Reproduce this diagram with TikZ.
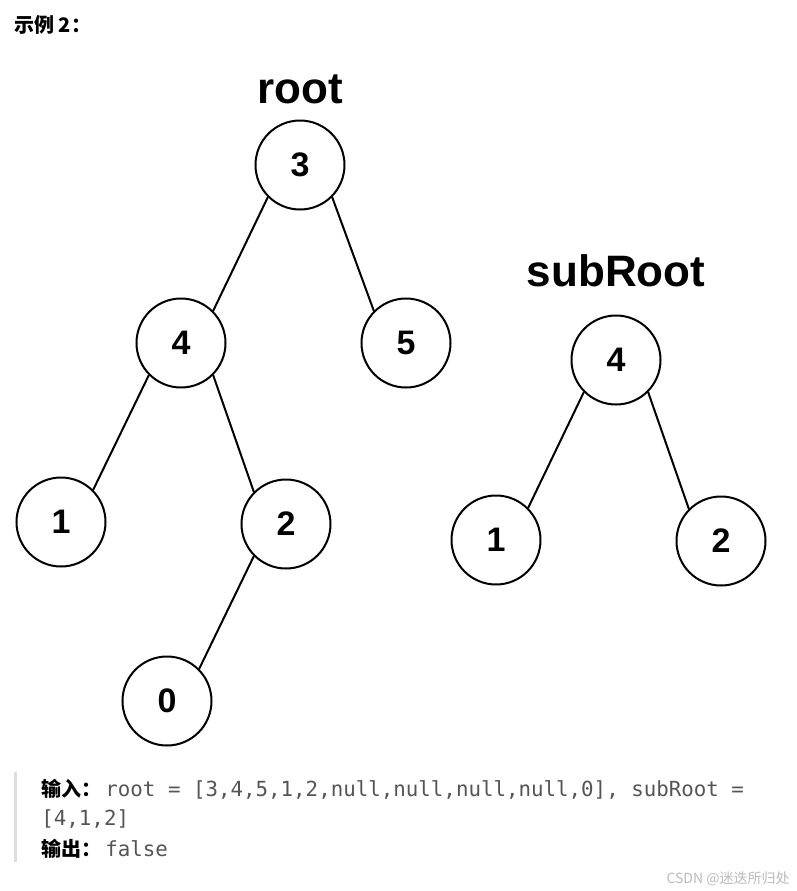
\documentclass[tikz,border=0pt]{standalone}
\usepackage{fontspec}
\usepackage{xcolor}
\setmainfont{Liberation Sans}
\newfontfamily\cjk{Noto Sans CJK SC}
\newfontfamily\codefont{DejaVu Sans Mono}
\usetikzlibrary{positioning}

\definecolor{codegray}{HTML}{555555}
\definecolor{bargray}{HTML}{DDDDDD}
\definecolor{markgray}{HTML}{BBBBBB}

\begin{document}
\begin{tikzpicture}[
  x=0.5pt, y=-0.5pt,
  node distance=89.5pt and 60pt, on grid,
  treenode/.style={circle, draw=black, line width=1pt, minimum size=44.5pt,
                   inner sep=0pt, font=\fontsize{17}{17}\selectfont\bfseries},
  treelabel/.style={anchor=base, inner sep=0pt, font=\fontsize{22}{22}\selectfont\bfseries},
  branch/.style={draw, line width=1pt},
  cnlabel/.style={anchor=base west, inner sep=0pt, font=\cjk\bfseries\fontsize{10}{10}\selectfont},
  code/.style={anchor=base west, inner sep=0pt, text=codegray, font=\codefont\fontsize{10.4}{10.4}\selectfont},
]
  \useasboundingbox[fill=white] (0,0) rectangle (797,891);

  \node[cnlabel] (title) at (14,32) {示例 2：};

  % root tree
  \node[treelabel] (rootlbl) at (300,103) {root};
  \node[treenode] (r3) at (300,165) {3};
  \node[treenode, below left=89pt and 59.5pt of r3] (r4) {4};
  \node[treenode, below right=89pt and 53pt of r3] (r5) {5};
  \node[treenode, below left=89.5pt and 60pt of r4] (r1) {1};
  \node[treenode, below right=90.5pt and 52.5pt of r4] (r2) {2};
  \node[treenode, below left=88.5pt and 59.5pt of r2] (r0) {0};

  \draw[branch] (r3.south west) -- (r4.north east);
  \draw[branch] (r3.south east) -- (r5.north west);
  \draw[branch] (r4.south west) -- (r1.north east);
  \draw[branch] (r4.south east) -- (r2.north west);
  \draw[branch] (r2.south west) -- (r0.north east);

  % subRoot tree
  \node[treelabel] (sublbl) at (616,286) {subRoot};
  \node[treenode] (s4) at (616,360) {4};
  \node[treenode, below left=90pt and 60pt of s4] (s1) {1};
  \node[treenode, below right=90.5pt and 52.5pt of s4] (s2) {2};

  \draw[branch] (s4.south west) -- (s1.north east);
  \draw[branch] (s4.south east) -- (s2.north west);

  % example text
  \fill[bargray] (14,772) rectangle (17,862);
  \node[cnlabel] (inlbl) at (41,796) {输入：};
  \node[code] (incode) at (105,796) {root = [3,4,5,1,2,null,null,null,null,0], subRoot =};
  \node[code] (incode2) at (41,825) {[4,1,2]};
  \node[cnlabel] (outlbl) at (41,856) {输出：};
  \node[code] (outcode) at (105,856) {false};

  \node[anchor=base east, inner sep=0pt, text=markgray, font=\cjk\fontsize{7}{7}\selectfont]
    (mark) at (790,883) {CSDN @迷迭所归处};
\end{tikzpicture}
\end{document}
